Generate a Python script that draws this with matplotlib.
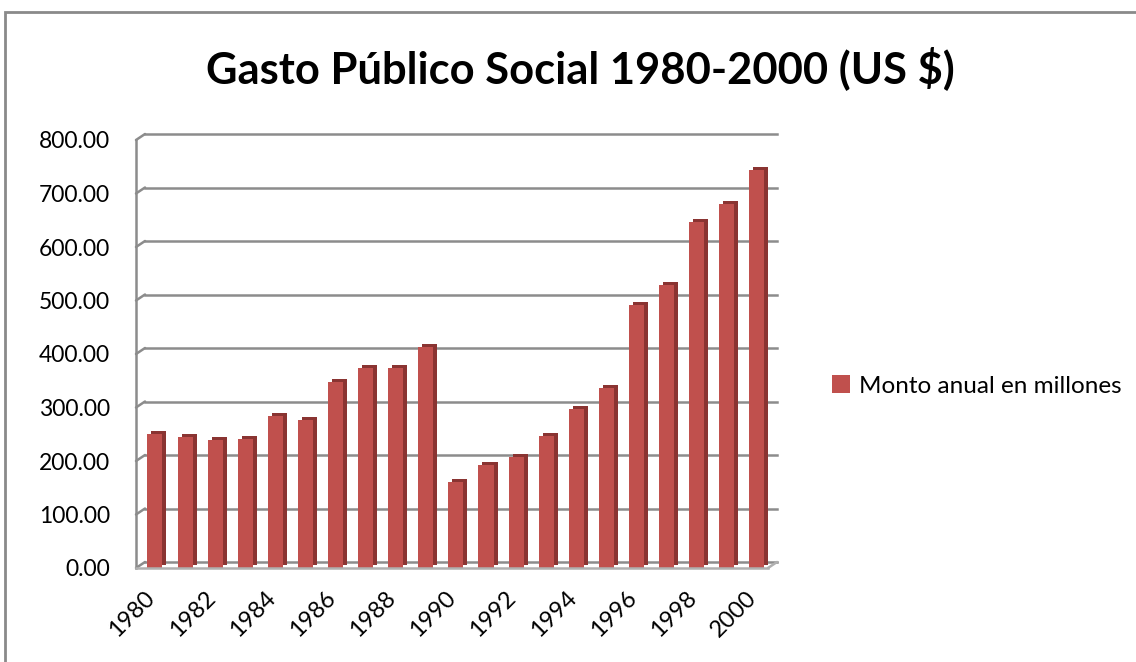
import matplotlib
matplotlib.use("Agg")
import matplotlib.pyplot as plt
import matplotlib.transforms as mtransforms
from matplotlib.patches import Rectangle

years = list(range(1980, 2001))
values = [250, 245, 240, 242, 285, 276, 347, 374, 374, 413,
          160, 193, 208, 247, 298, 336, 491, 529, 647, 681, 743]
yticks = [0, 100, 200, 300, 400, 500, 600, 700, 800]
ytick_labels = [f"{v:.2f}" for v in yticks]
xtick_years = list(range(1980, 2001, 2))
title = "Gasto Público Social 1980-2000 (US $)"
series_name = "Monto anual en millones"

FONT = "Lato"
W, H = 1136, 662
fig = plt.figure(figsize=(W / 100, H / 100), dpi=100)

# outer frame
fig.patches.append(Rectangle((5 / W, -0.1), 1.2, 1 - 12 / H + 0.1,
                             transform=fig.transFigure, fill=False,
                             edgecolor="#8a8a8a", lw=2))

ax = fig.add_axes([136 / W, 1 - 568 / H, (768 - 136) / W, (568 - 140) / H])
ax.set_xlim(-0.5, len(years) - 0.5)
ax.set_ylim(0, 800)

grid_c = "#8c8c8c"
dx, dy = 9, 6  # depth offset in pixels
back = ax.transData + mtransforms.ScaledTranslation(dx / 100, dy / 100, fig.dpi_scale_trans)

# back-wall gridlines
for t in yticks:
    ax.plot([-0.5, len(years) - 0.5], [t, t], color=grid_c, lw=1.8,
            transform=back, clip_on=False, zorder=1)
    ax.annotate("", xy=(-0.5, t), xytext=(dx, dy), textcoords="offset pixels",
                arrowprops=dict(arrowstyle="-", color=grid_c, lw=1.8,
                                shrinkA=0, shrinkB=0), zorder=1,
                annotation_clip=False)
# floor right edge
ax.annotate("", xy=(len(years) - 0.5, 0), xytext=(dx, dy), textcoords="offset pixels",
            arrowprops=dict(arrowstyle="-", color="#b0b0b0", lw=1.8,
                            shrinkA=0, shrinkB=0), zorder=1, annotation_clip=False)

# bars (pseudo 3D)
xs = [i + 0.13 for i in range(len(years))]
side = ax.transData + mtransforms.ScaledTranslation(4 / 100, 3 / 100, fig.dpi_scale_trans)
ax.bar(xs, values, width=0.5, color="#8a3432", transform=side, zorder=2, clip_on=False)
ax.bar(xs, values, width=0.5, color="#c0504d", zorder=3, clip_on=False,
       label=series_name)

for s in ["top", "right"]:
    ax.spines[s].set_visible(False)
ax.spines["left"].set_color(grid_c)
ax.spines["left"].set_linewidth(1.8)
ax.spines["bottom"].set_color("#b0b0b0")
ax.spines["bottom"].set_linewidth(1.8)
ax.spines["bottom"].set_zorder(4)

ax.set_yticks(yticks)
ax.set_yticklabels(ytick_labels, fontsize=16.5, fontfamily=FONT)
ax.tick_params(axis="y", length=0, pad=18.5)
ax.set_xticks([y - 1980 for y in xtick_years])
ax.set_xticklabels([str(y) for y in xtick_years], rotation=45, ha="right",
                   rotation_mode="anchor", fontsize=17, fontfamily=FONT)
ax.tick_params(axis="x", length=0, pad=14)
shift = mtransforms.ScaledTranslation(-7 / 100, 0, fig.dpi_scale_trans)
for lbl in ax.get_xticklabels():
    lbl.set_transform(lbl.get_transform() + shift)

fig.text(580 / W, 1 - 68 / H, title, ha="center", va="center",
         fontsize=31.3, fontweight="bold", fontfamily=FONT)

leg = fig.legend(loc="center left", bbox_to_anchor=(832 / W, 1 - 386 / H),
                 frameon=False, prop={"family": FONT, "size": 17.5},
                 handlelength=0.75, handleheight=0.75, handletextpad=0.35,
                 borderpad=0, borderaxespad=0)

fig.savefig("out.png", dpi=100)
